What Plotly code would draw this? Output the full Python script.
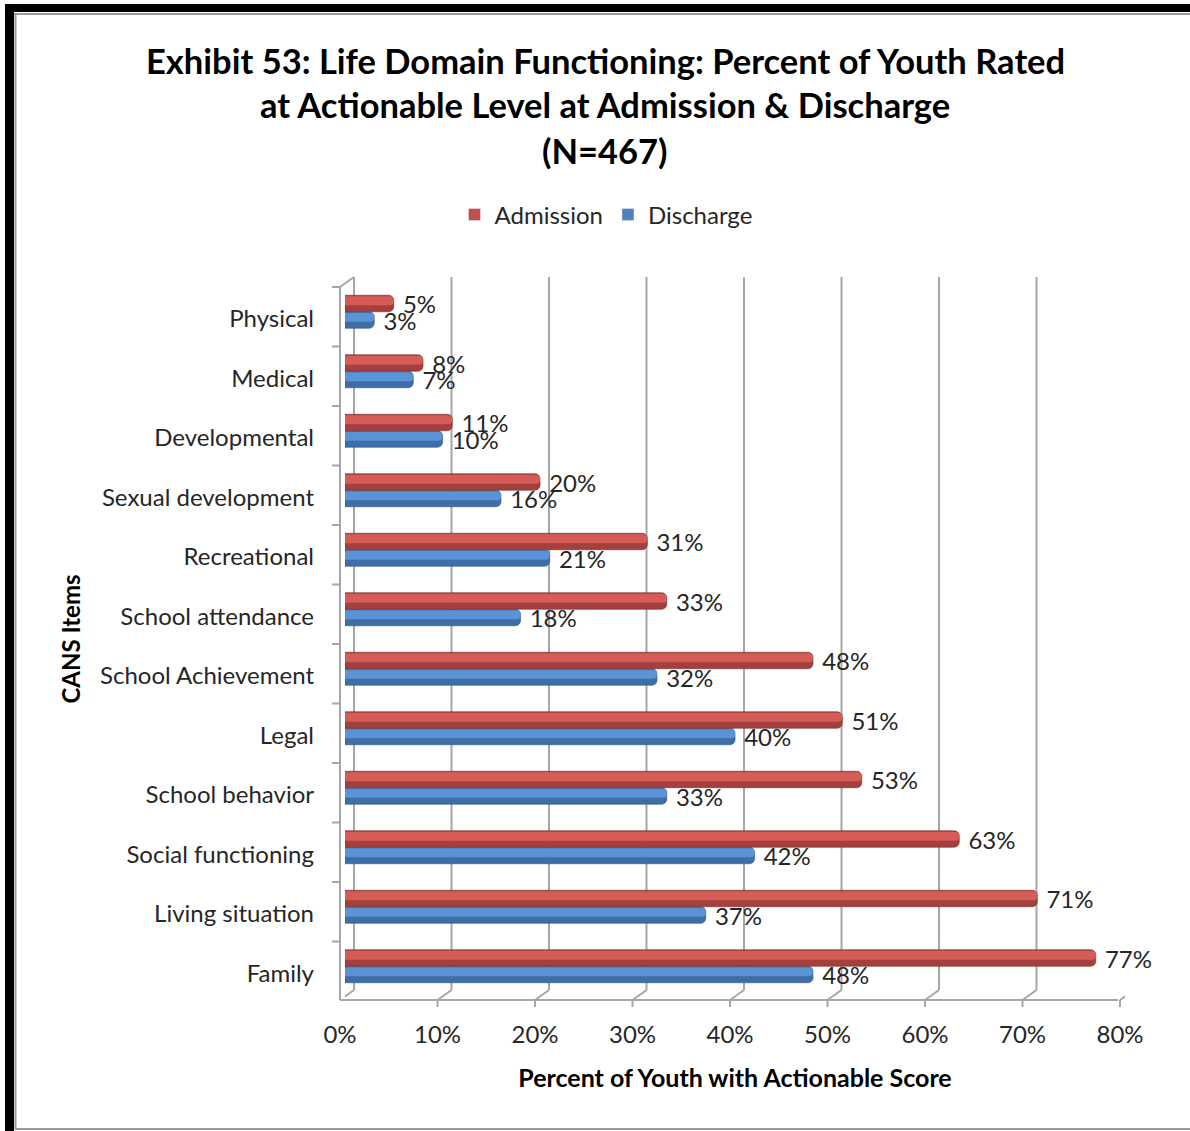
import plotly.graph_objects as go

# ---------------- data ----------------
categories = ["Family", "Living situation", "Social functioning", "School behavior",
              "Legal", "School Achievement", "School attendance", "Recreational",
              "Sexual development", "Developmental", "Medical", "Physical"]
admission = [0.77, 0.71, 0.63, 0.53, 0.51, 0.48, 0.33, 0.31, 0.20, 0.11, 0.08, 0.05]
discharge = [0.48, 0.37, 0.42, 0.33, 0.40, 0.32, 0.18, 0.21, 0.16, 0.10, 0.07, 0.03]
x_ticks = [0.0, 0.1, 0.2, 0.3, 0.4, 0.5, 0.6, 0.7, 0.8]
title_lines = ["Exhibit 53: Life Domain Functioning: Percent of Youth Rated",
               "at Actionable Level at Admission & Discharge",
               "(N=467)"]

# ---------------- geometry ----------------
W, H = 1190, 1131
L, R, T, B = 345, 1125, 282, 996          # plot area pixels
FONT = "Lato"
GRAY = "#A6A6A6"
TXT = "#262626"
FS = 24


def px(xp):
    return (xp - L) / (R - L)


def py(yp):
    return (B - yp) / (B - T)


CAT_PX = (B - T) / len(categories)
BAR_W = 16.5 / CAT_PX
SHIFT = 8.25 / CAT_PX
HL_W = 0.55 * BAR_W
ONEPX = 1 / CAT_PX

fig = go.Figure()

series = [
    ("Discharge", discharge, -SHIFT, "#3F6DA6", "#5A93D6", "#2F5888", 2),
    ("Admission", admission, +SHIFT, "#A33F3C", "#D65C58", "#7E2E2C", 1),
]
for name, vals, c, base, light, edge, rank in series:
    fig.add_trace(go.Bar(
        name=name, y=categories, x=vals, orientation="h",
        width=BAR_W, offset=c - BAR_W / 2,
        marker=dict(color=base, line=dict(color=edge, width=0.6), cornerradius=5),
        text=vals, texttemplate=" %{x:.0%}", textposition="outside",
        constraintext="none", cliponaxis=False,
        textfont=dict(family=FONT, size=FS, color=TXT),
        legendrank=rank, showlegend=False, hoverinfo="skip",
    ))
    top = c + BAR_W / 2
    fig.add_trace(go.Bar(
        name=name, y=categories, x=vals, orientation="h",
        width=HL_W, offset=top - ONEPX - HL_W,
        marker=dict(color=light, line=dict(width=0), cornerradius=4),
        showlegend=False, hoverinfo="skip",
    ))

# legend-only entries
for name, col, rank in [("Admission", "#C0504D", 1), ("Discharge", "#4F81BD", 2)]:
    fig.add_trace(go.Bar(name=name, y=[None], x=[None], orientation="h",
                         marker=dict(color=col), legendrank=rank, showlegend=True))

shapes = []
line = dict(color=GRAY, width=2)
# back wall gridlines + floor diagonals + front ticks
for k in x_ticks:
    shapes.append(dict(type="line", xref="x", xsizemode="pixel", xanchor=k, x0=9, x1=9,
                       yref="paper", ysizemode="pixel", yanchor=0, y0=6, y1=B - 277,
                       line=line, layer="below"))
    shapes.append(dict(type="line", xref="x", xsizemode="pixel", xanchor=k, x0=-5, x1=9,
                       yref="paper", ysizemode="pixel", yanchor=0, y0=-4, y1=6,
                       line=line, layer="below"))
    shapes.append(dict(type="line", xref="x", xsizemode="pixel", xanchor=k, x0=-5, x1=-5,
                       yref="paper", ysizemode="pixel", yanchor=0, y0=-4, y1=-11,
                       line=line, layer="below"))
# floor front line
shapes.append(dict(type="line", xref="paper", yref="paper",
                   x0=px(340), x1=px(1118), y0=py(1000), y1=py(1000), line=line, layer="below"))
# side wall front line and top
shapes.append(dict(type="line", xref="paper", yref="paper",
                   x0=px(340), x1=px(340), y0=py(1000), y1=py(287), line=line, layer="below"))
shapes.append(dict(type="line", xref="paper", yref="paper",
                   x0=px(340), x1=px(354), y0=py(287), y1=py(277), line=line, layer="below"))
# side wall ticks at category boundaries
for i in range(len(categories) + 1):
    shapes.append(dict(type="line", xref="paper", xsizemode="pixel", xanchor=0, x0=-13, x1=-5,
                       yref="y", ysizemode="pixel", yanchor=i - 0.5, y0=-5, y1=-5,
                       line=line, layer="below"))

# outer frame
shapes += [
    dict(type="rect", xref="paper", yref="paper", x0=px(5), x1=px(14), y0=py(4), y1=py(1131),
         fillcolor="black", line=dict(width=0)),
    dict(type="rect", xref="paper", yref="paper", x0=px(5), x1=px(1190), y0=py(4), y1=py(12),
         fillcolor="black", line=dict(width=0)),
    dict(type="line", xref="paper", yref="paper", x0=px(14), x1=px(1190), y0=py(14), y1=py(14),
         line=dict(color="#999999", width=2)),
    dict(type="line", xref="paper", yref="paper", x0=px(15.5), x1=px(15.5), y0=py(14), y1=py(1129),
         line=dict(color="#999999", width=2)),
    dict(type="line", xref="paper", yref="paper", x0=px(15), x1=px(1190), y0=py(1129), y1=py(1129),
         line=dict(color="#999999", width=2)),
]

annotations = []
for t, yc in zip(title_lines, [60, 104, 150]):
    annotations.append(dict(text="<b>%s</b>" % t, xref="paper", yref="paper",
                            x=px(605), y=py(yc), xanchor="center", yanchor="middle",
                            showarrow=False, font=dict(family=FONT, size=34.5, color="black")))

fig.update_layout(
    width=W, height=H,
    margin=dict(l=L, r=W - R, t=T, b=H - B, autoexpand=False),
    paper_bgcolor="white", plot_bgcolor="rgba(0,0,0,0)",
    barmode="overlay",
    font=dict(family=FONT, size=FS, color=TXT),
    shapes=shapes, annotations=annotations,
    legend=dict(orientation="h", x=px(606), xanchor="center", y=py(215), yanchor="middle",
                font=dict(family=FONT, size=FS, color=TXT), itemwidth=30,
                traceorder="normal"),
    xaxis=dict(range=[0, 0.8], tickvals=x_ticks, tickformat=".0%",
               showgrid=False, zeroline=False, showline=False, ticks="",
               ticklabelshift=-5, ticklabelstandoff=22,
               tickfont=dict(family=FONT, size=FS, color=TXT),
               title=dict(text="<b>Percent of Youth with Actionable Score</b>",
                          font=dict(family=FONT, size=25, color="black"), standoff=22),
               automargin=False),
    yaxis=dict(type="category", categoryorder="array", categoryarray=categories,
               range=[-0.5, len(categories) - 0.5],
               showgrid=False, zeroline=False, showline=False, ticks="",
               ticklabelshift=7, ticklabelstandoff=30,
               tickfont=dict(family=FONT, size=FS, color=TXT),
               title=dict(text="<b>CANS Items</b>",
                          font=dict(family=FONT, size=24, color="black"), standoff=12),
               automargin=False),
)

fig.write_html("out.html", config={"displayModeBar": False},
               post_script="document.body.style.margin='0';")
